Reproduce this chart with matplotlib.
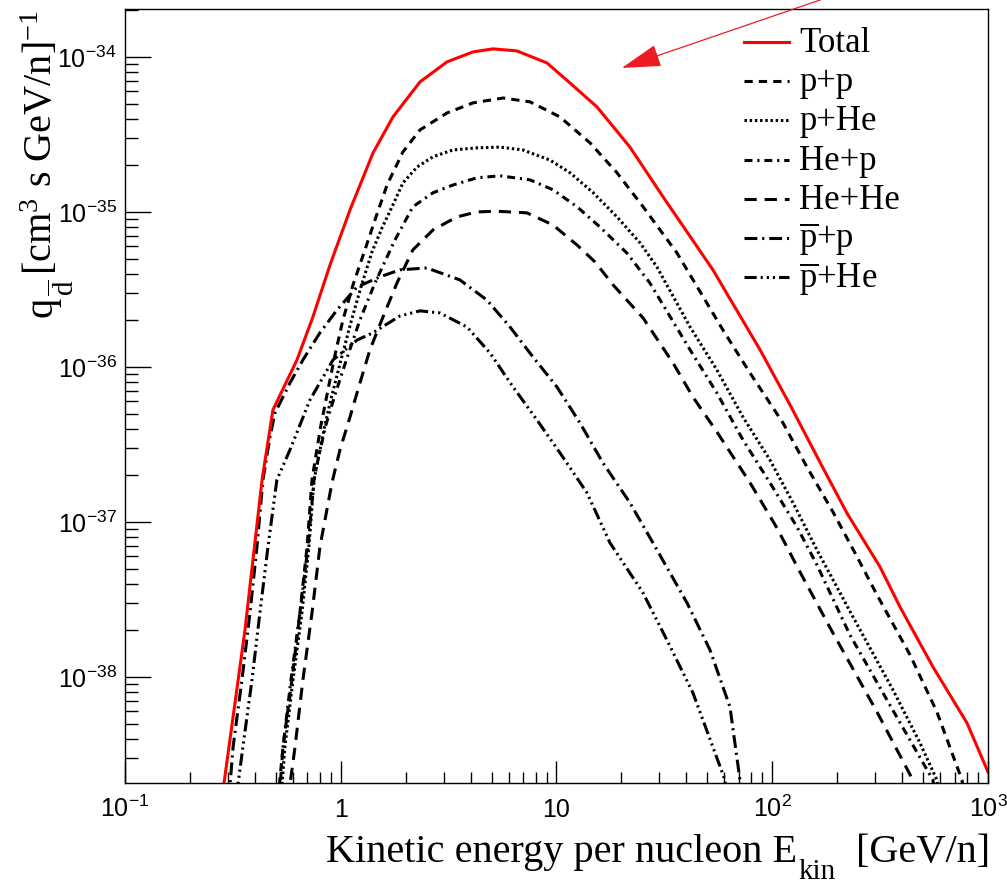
import matplotlib
matplotlib.use("Agg")
import matplotlib.pyplot as plt
from matplotlib.lines import Line2D
from matplotlib.ticker import FixedLocator, LogLocator, NullFormatter

plt.rcParams['font.family'] = 'Liberation Serif'
plt.rcParams['mathtext.fontset'] = 'custom'
plt.rcParams['mathtext.rm'] = 'Liberation Serif'
plt.rcParams['mathtext.it'] = 'Liberation Serif:italic'
plt.rcParams['mathtext.sf'] = 'Liberation Sans'

# Kinetic energy per nucleon [GeV/n] and source term q [cm^3 s GeV/n]^-1
total_E = [0.277, 0.360, 0.432, 0.485, 0.627, 0.743, 0.892, 1.104, 1.411, 1.746, 2.33, 3.11,
           4.10, 5.08, 6.56, 9.04, 11.55, 15.4, 21.9, 31.2, 53.1, 87.8, 120.9, 171.9, 222,
           315.8, 391, 556, 799, 1000]
total_q = [1.4e-39, 2.01e-38, 1.87e-37, 5.28e-37, 1.11e-36, 2.10e-36, 4.55e-36, 1.03e-35,
           2.40e-35, 4.10e-35, 6.90e-35, 9.29e-35, 1.077e-34, 1.127e-34, 1.093e-34, 9.14e-35,
           6.79e-35, 4.76e-35, 2.62e-35, 1.25e-35, 4.23e-36, 1.29e-36, 5.69e-37, 2.23e-37,
           1.14e-37, 5.13e-38, 2.83e-38, 1.16e-38, 5.05e-39, 2.44e-39]

pp_E = [0.512, 0.540, 0.594, 0.647, 0.698, 0.736, 0.768, 0.810, 0.873, 0.940, 1.024, 1.140,
        1.295, 1.441, 1.639, 1.943, 2.33, 3.11, 4.10, 5.65, 7.54, 10.38, 14.3, 19.07, 25.2,
        36.2, 59.1, 78.9, 112.2, 144.9, 191.2, 241.9, 306, 435, 580, 758, 782]
pp_q = [1.61e-39, 3.53e-39, 9.58e-39, 2.59e-38, 6.90e-38, 1.87e-37, 2.70e-37, 4.23e-37,
        7.11e-37, 1.19e-36, 2.01e-36, 3.38e-36, 5.69e-36, 8.87e-36, 1.49e-35, 2.44e-35,
        3.38e-35, 4.35e-35, 5.05e-35, 5.43e-35, 5.13e-35, 4.10e-35, 2.79e-35, 1.79e-35,
        1.08e-35, 5.43e-36, 1.73e-36, 9.14e-37, 4.35e-37, 2.26e-37, 1.16e-37, 6.31e-38,
        3.38e-38, 1.39e-38, 5.94e-39, 2.16e-39, 1.6e-39]

pHe_E = [0.528, 0.551, 0.601, 0.661, 0.712, 0.752, 0.793, 0.845, 0.911, 1.003, 1.116, 1.241,
         1.396, 1.553, 1.73, 1.943, 2.26, 2.68, 3.31, 4.28, 5.47, 6.99, 9.33, 11.55, 14.8,
         19.07, 24.4, 29.2, 41.6, 55.4, 73.2, 97.6, 124.8, 161.2, 236.7, 362.8, 484, 580, 599]
pHe_q = [1.61e-39, 3.53e-39, 9.58e-39, 2.59e-38, 6.90e-38, 1.87e-37, 2.70e-37, 4.23e-37,
         6.59e-37, 1.11e-36, 1.95e-36, 3.28e-36, 5.52e-36, 7.88e-36, 1.08e-35, 1.54e-35,
         1.95e-35, 2.27e-35, 2.51e-35, 2.59e-35, 2.62e-35, 2.51e-35, 2.16e-35, 1.79e-35,
         1.33e-35, 9.29e-36, 6.31e-36, 4.42e-36, 1.81e-36, 9.57e-37, 4.75e-37, 2.51e-37,
         1.33e-37, 6.59e-38, 2.44e-38, 8.24e-39, 3.75e-39, 2.16e-39, 1.6e-39]

Hep_E = [0.518, 0.540, 0.588, 0.647, 0.705, 0.752, 0.793, 0.854, 0.940, 1.069, 1.228, 1.441,
         1.784, 2.16, 2.68, 3.31, 4.28, 5.47, 7.54, 9.63, 12.45, 15.9, 21.2, 27.1, 41.6, 55.4,
         73.2, 97.6, 130.2, 161.2, 229, 351, 556, 572]
Hep_q = [1.61e-39, 3.53e-39, 9.58e-39, 2.59e-38, 6.90e-38, 1.87e-37, 2.70e-37, 4.23e-37,
         6.59e-37, 1.14e-36, 2.01e-36, 3.48e-36, 6.59e-36, 1.08e-35, 1.33e-35, 1.49e-35,
         1.66e-35, 1.71e-35, 1.61e-35, 1.39e-35, 1.08e-35, 8.0e-36, 5.43e-36, 3.48e-36,
         1.29e-36, 6.79e-37, 3.38e-37, 1.79e-37, 9.29e-38, 5.28e-38, 1.87e-38, 6.59e-39,
         2.16e-39, 1.6e-39]

HeHe_E = [0.569, 0.614, 0.668, 0.736, 0.801, 0.911, 0.992, 1.104, 1.228, 1.366, 1.57, 1.823,
          2.16, 2.68, 3.46, 4.28, 5.30, 7.30, 9.63, 12.45, 15.1, 18.3, 25.2, 34.7, 42.9, 55.4,
          78.9, 105.2, 134.5, 191.2, 306, 449, 459]
HeHe_q = [1.61e-39, 3.53e-39, 9.58e-39, 2.59e-38, 6.90e-38, 1.79e-37, 2.92e-37, 4.75e-37,
          7.89e-37, 1.29e-36, 2.10e-36, 3.48e-36, 5.69e-36, 7.66e-36, 9.29e-36, 1.0e-35,
          1.01e-35, 9.86e-36, 8.24e-36, 6.12e-36, 4.75e-36, 3.38e-36, 2.07e-36, 1.06e-36,
          6.4e-37, 3.81e-37, 1.79e-37, 9.14e-38, 4.75e-38, 1.92e-38, 5.94e-39, 2.16e-39, 1.6e-39]

pbarp_E = [0.303, 0.317, 0.3485, 0.3797, 0.409, 0.436, 0.470, 0.496, 0.523, 0.582, 0.668,
           0.801, 0.961, 1.19, 1.52, 1.88, 2.51, 3.57, 4.76, 6.09, 7.78, 10.05, 12.85, 16.43,
           21.9, 28.0, 40.3, 51.5, 63.7, 70.9, 71.6]
pbarp_q = [1.61e-39, 3.53e-39, 9.58e-39, 2.59e-38, 6.90e-38, 1.87e-37, 3.53e-37, 5.05e-37,
           5.86e-37, 7.89e-37, 1.11e-36, 1.66e-36, 2.33e-36, 3.28e-36, 3.81e-36, 4.23e-36,
           4.35e-36, 3.64e-36, 2.70e-36, 1.81e-36, 1.16e-36, 7.43e-37, 4.35e-37, 2.40e-37,
           1.33e-37, 7.33e-38, 3.00e-38, 1.49e-38, 6.40e-39, 2.16e-39, 1.6e-39]

pbarHe_E = [0.327, 0.352, 0.388, 0.422, 0.460, 0.506, 0.582, 0.720, 0.921, 1.19, 1.41, 1.88,
            2.33, 2.88, 3.85, 4.92, 6.29, 8.12, 10.38, 13.85, 17.7, 25.2, 32.5, 42.9, 53.1,
            60.4, 61.7]
pbarHe_q = [1.61e-39, 3.53e-39, 9.58e-39, 2.59e-38, 6.90e-38, 1.87e-37, 2.92e-37, 6.12e-37,
            1.11e-36, 1.49e-36, 1.66e-36, 2.13e-36, 2.30e-36, 2.23e-36, 1.81e-36, 1.23e-36,
            7.43e-37, 4.55e-37, 2.79e-37, 1.54e-37, 7.33e-38, 3.48e-38, 1.73e-38, 7.89e-39,
            3.53e-39, 2.16e-39, 1.6e-39]

labels = ["Total", "p+p", "p+He", "He+p", "He+He",
          r"$\overline{\mathrm{p}}$+p", r"$\overline{\mathrm{p}}$+He"]

xtick_vals = [0.1, 1, 10, 100, 1000]
xtick_labels = [r"$\mathsf{10^{-1}}$", "1", "10", r"$\mathsf{10^{2}}$", r"$\mathsf{10^{3}}$"]
ytick_vals = [1e-38, 1e-37, 1e-36, 1e-35, 1e-34]
ytick_labels = [r"$\mathsf{10^{-38}}$", r"$\mathsf{10^{-37}}$", r"$\mathsf{10^{-36}}$",
                r"$\mathsf{10^{-35}}$", r"$\mathsf{10^{-34}}$"]

# arrow in the upper part of the plot (tip, tail)
arrow_tip = (20.1, 8.49e-35)
arrow_tail = (227, 2.7e-34)

fig = plt.figure(figsize=(10.07, 8.83), dpi=100)
ax = fig.add_axes([0.1241, 0.1133, 0.8570, 0.8766])
W, H = fig.bbox.width, fig.bbox.height

lw = 2.2
curves = [
    (total_E, total_q, "red", "-"),
    (pp_E, pp_q, "black", (0, (2.7, 2.0))),
    (pHe_E, pHe_q, "black", (0, (0.8, 0.9))),
    (Hep_E, Hep_q, "black", (0, (2.6, 1.6, 0.7, 1.6))),
    (HeHe_E, HeHe_q, "black", (0, (4.0, 2.6))),
    (pbarp_E, pbarp_q, "black", (0, (4.2, 1.6, 0.7, 1.6))),
    (pbarHe_E, pbarHe_q, "black", (0, (4.0, 1.3, 0.7, 1.3, 0.7, 1.3, 0.7, 1.3))),
]
# black curves first, Total on top
for E, q, c, ls in curves[1:] + curves[:1]:
    ax.plot(E, q, color=c, lw=lw, linestyle=ls)

ax.set_xscale("log")
ax.set_yscale("log")
ax.set_xlim(0.1, 1000)
ax.set_ylim(2.07e-39, 2.04e-34)

ax.xaxis.set_major_locator(FixedLocator(xtick_vals))
ax.set_xticklabels(xtick_labels)
ax.xaxis.set_minor_locator(LogLocator(base=10, subs=range(2, 10), numticks=50))
ax.xaxis.set_minor_formatter(NullFormatter())
ax.yaxis.set_major_locator(FixedLocator(ytick_vals))
ax.set_yticklabels(ytick_labels)
ax.yaxis.set_minor_locator(LogLocator(base=10, subs=range(2, 10), numticks=50))
ax.yaxis.set_minor_formatter(NullFormatter())

ax.tick_params(which="both", direction="in", top=False, right=False, width=1)
ax.tick_params(axis="x", which="major", length=16, pad=24.5, labelsize=18)
ax.tick_params(axis="x", which="minor", length=8)
ax.tick_params(axis="y", which="major", length=18.7, pad=6, labelsize=18)
ax.tick_params(axis="y", which="minor", length=9.4)
for t in ax.get_xticklabels() + ax.get_yticklabels():
    t.set_fontfamily("Liberation Sans")
plt.setp(ax.get_xticklabels(), va="baseline")
for s in ax.spines.values():
    s.set_linewidth(1)

ax.annotate("", xy=arrow_tip, xytext=arrow_tail, annotation_clip=False,
            arrowprops=dict(arrowstyle="-|>,head_length=1.25,head_width=0.36",
                            mutation_scale=20, color="#ed1c24", lw=0.9,
                            shrinkA=0, shrinkB=0))

# legend, ROOT TLegend style (no frame, fixed row pitch)
for i, ((E, q, c, ls), lab) in enumerate(zip(curves, labels)):
    yy = 42 + 39.2 * i
    fig.add_artist(Line2D([744 / W, 789 / W], [1 - yy / H, 1 - yy / H],
                          transform=fig.transFigure, color=c, lw=lw, linestyle=ls))
    fig.text(799 / W, 1 - (yy + 10) / H, lab, fontsize=25, va="baseline", ha="left")

# axis titles built from pieces so the subscripts sit low, as ROOT draws them
fig.canvas.draw()
r = fig.canvas.get_renderer()

t3 = fig.text(990 / W, 1 - 862 / H, "[GeV/n]", ha="right", va="baseline", fontsize=29)
bb = t3.get_window_extent(r)
t2 = fig.text((bb.x0 - 20) / W, 1 - 879 / H, "kin", ha="right", va="baseline", fontsize=21)
bb = t2.get_window_extent(r)
fig.text((bb.x0 - 2) / W, 1 - 862 / H, "Kinetic energy per nucleon E",
         ha="right", va="baseline", fontsize=29)

ty = fig.text(52 / W, 1 - 10 / H, r"[cm$^{3}$ s GeV/n]$^{-1}$", rotation=90,
              rotation_mode="anchor", ha="right", va="baseline", fontsize=29)
bb = ty.get_window_extent(r)
td = fig.text(74 / W, (bb.y0 - 4) / H, r"$\overline{\mathrm{d}}$", rotation=90,
              rotation_mode="anchor", ha="right", va="baseline", fontsize=21)
bb = td.get_window_extent(r)
fig.text(52 / W, (bb.y0 - 1) / H, "q", rotation=90,
         rotation_mode="anchor", ha="right", va="baseline", fontsize=29)

fig.savefig("out.png", dpi=100)
